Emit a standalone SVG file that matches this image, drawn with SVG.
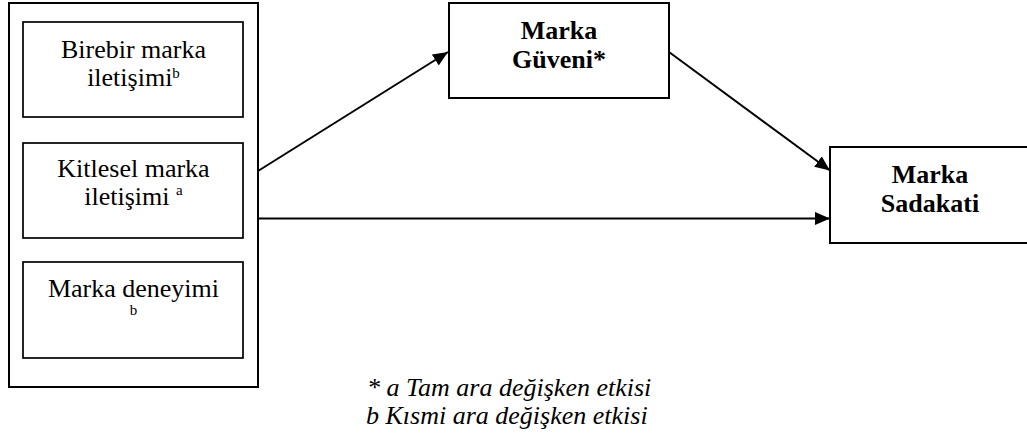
<svg xmlns="http://www.w3.org/2000/svg" width="1027" height="438" viewBox="0 0 1027 438">
  <style>
    .box { fill: #ffffff; stroke: #000000; stroke-width: 2; }
    .inner { fill: #ffffff; stroke: #000000; stroke-width: 1.7; }
    .t { font-family: "Liberation Serif", "Times New Roman", serif; font-size: 26px; fill: #000000; text-anchor: middle; }
    .b { font-weight: bold; }
    .sup { font-size: 15px; }
    .note { font-family: "Liberation Serif", "Times New Roman", serif; font-size: 26px; font-style: italic; fill: #000000; }
    .conn { stroke: #000000; stroke-width: 2; fill: none; marker-end: url(#arrow); }
  </style>
  <defs>
    <marker id="arrow" markerUnits="userSpaceOnUse" markerWidth="16" markerHeight="14" refX="15" refY="6.5" orient="auto">
      <path d="M0,0 L15,6.5 L0,13 Z" fill="#000000"/>
    </marker>
  </defs>
  <rect width="1027" height="438" fill="#ffffff"/>

  <g id="predictors">
    <rect class="box" x="9" y="3" width="249" height="384"/>
  </g>

  <g id="birebir">
    <rect class="inner" x="23" y="22" width="220" height="95"/>
    <text class="t" x="133.5" y="57.7">Birebir marka</text>
    <text class="t" x="133.5" y="86">iletişimi<tspan class="sup" dy="-8">b</tspan></text>
  </g>

  <g id="kitlesel">
    <rect class="inner" x="23" y="143" width="220" height="95"/>
    <text class="t" x="133.5" y="176.5">Kitlesel marka</text>
    <text class="t" x="133.5" y="205">iletişimi <tspan class="sup" dy="-10">a</tspan></text>
  </g>

  <g id="deneyim">
    <rect class="inner" x="23" y="262" width="220" height="96"/>
    <text class="t" x="133.5" y="296.7">Marka deneyimi</text>
    <text class="t sup" x="133.5" y="315">b</text>
  </g>

  <g id="guven">
    <rect class="box" x="449" y="3" width="220" height="95"/>
    <text class="t b" x="559" y="39">Marka</text>
    <text class="t b" x="559" y="68.3">Güveni*</text>
  </g>

  <g id="sadakat">
    <rect class="box" x="830" y="147" width="204" height="96"/>
    <text class="t b" x="930" y="182.5">Marka</text>
    <text class="t b" x="930" y="212">Sadakati</text>
  </g>

  <g id="connectors">
    <line class="conn" x1="258" y1="171" x2="448" y2="52"/>
    <line class="conn" x1="669" y1="52" x2="830" y2="170.5"/>
    <line class="conn" x1="258" y1="218.5" x2="830" y2="218.5"/>
  </g>

  <g id="notes">
    <text class="note" x="367" y="396">* a Tam ara değişken etkisi</text>
    <text class="note" x="366" y="424">b Kısmi ara değişken etkisi</text>
  </g>
</svg>
